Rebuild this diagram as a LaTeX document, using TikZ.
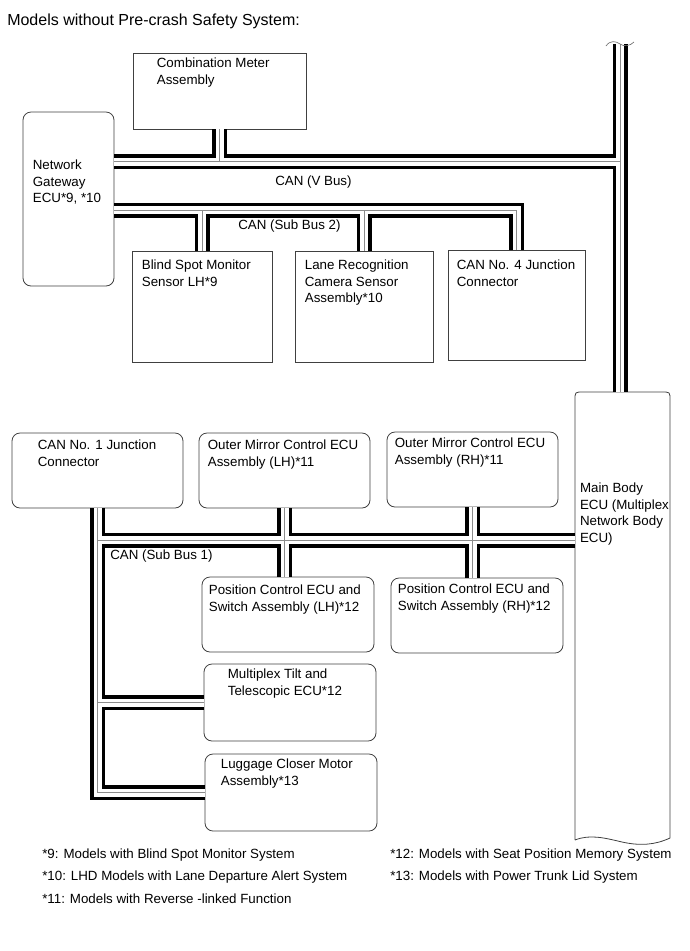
\documentclass[tikz,border=0pt]{standalone}
\usepackage{fontspec}
\setmainfont{Liberation Sans}
\usetikzlibrary{calc,positioning,fit}

\begin{document}
\begin{tikzpicture}[x=0.75pt, y=-0.75pt,
    box/.style={draw=black!75, line width=0.6pt, fill=white, inner sep=0pt},
    rbox/.style={box, rounded corners=6pt},
    txt/.style={font=\fontsize{10}{12.4}\selectfont, align=left, inner sep=0pt, anchor=north west},
    note/.style={font=\fontsize{10}{12}\selectfont, inner sep=0pt, anchor=west},
    buswire/.style={line width=11.25pt, black},
    busgap/.style={line width=6pt, white},
    buscore/.style={line width=0.6pt, black!45}]
  \useasboundingbox (0,0) rectangle (690,951);

  \node[font=\fontsize{12}{14}\selectfont, inner sep=0pt, anchor=west] (title) at (7,21) {Models without Pre-crash Safety System:};

  % upper group
  \node[box, fit={(133,53) (306,129)}] (cm) {};
  \node[rbox, fit={(23,112) (114,286)}] (gw) {};
  \node[box, fit={(132,251) (272,362)}] (bs) {};
  \node[box, fit={(295,251) (433,362)}] (ln) {};
  \node[box, fit={(448,250) (585,360)}] (c4) {};
  \node[txt] at ($(cm.north west)+(24,5)$) {Combination Meter\\Assembly};
  \node[txt] at ($(gw.north west)+(10,48)$) {Network\\Gateway\\ECU*9, *10};
  \node[txt] at ($(bs.north west)+(10,9)$) {Blind Spot Monitor\\Sensor LH*9};
  \node[txt] at ($(ln.north west)+(10,9)$) {Lane Recognition\\Camera Sensor\\Assembly*10};
  \node[txt] at ($(c4.north west)+(9,10)$) {CAN No. 4 Junction\\Connector};

  % main body ecu
  \node[inner sep=0pt, fit={(575,392) (670,840)}] (mb) {};
  \draw[draw=black!75, line width=0.6pt] (575,840) -- (575,400) .. controls (575,392) .. (583,392) -- (662,392)
    .. controls (670,392) .. (670,400) -- (670,838) .. controls (655,845) and (640,846) .. (622,842)
    .. controls (605,838) and (590,834) .. (575,840);
  \node[txt] at ($(mb.north west)+(5,91)$) {Main Body\\ECU (Multiplex\\Network Body\\ECU)};

  % lower group
  \node[rbox, fit={(12,433) (183,508)}] (c1) {};
  \node[rbox, fit={(199,433) (370,508)}] (oml) {};
  \node[rbox, fit={(387,432) (558,507)}] (omr) {};
  \node[rbox, fit={(202,577) (374,652)}] (pcl) {};
  \node[rbox, fit={(391,578) (563,653)}] (pcr) {};
  \node[rbox, fit={(204,664) (376,741)}] (mt) {};
  \node[rbox, fit={(205,754) (377,831)}] (lg) {};
  \node[txt] at ($(c1.north west)+(26,7)$) {CAN No. 1 Junction\\Connector};
  \node[txt] at ($(oml.north west)+(9,7)$) {Outer Mirror Control ECU\\Assembly (LH)*11};
  \node[txt] at ($(omr.north west)+(8,6)$) {Outer Mirror Control ECU\\Assembly (RH)*11};
  \node[txt] at ($(pcl.north west)+(7,8)$) {Position Control ECU and\\Switch Assembly (LH)*12};
  \node[txt] at ($(pcr.north west)+(7,6)$) {Position Control ECU and\\Switch Assembly (RH)*12};
  \node[txt] at ($(mt.north west)+(24,5)$) {Multiplex Tilt and\\Telescopic ECU*12};
  \node[txt] at ($(lg.north west)+(16,5)$) {Luggage Closer Motor\\Assembly*13};

  \coordinate (vtop) at (620,44);
  \coordinate (vj) at (620,161.5);
  \coordinate (sb2) at (300,210);
  \coordinate (sb1) at (300,540);

  % twisted pair buses, drawn in three layers
  \foreach \layer in {buswire,busgap,buscore} {
    \draw[\layer] (vtop) -- (vtop |- mb.north);
    \draw[\layer] (gw.east |- vj) -- (vj);
    \draw[\layer] (cm.south) -- (cm.south |- vj);
    \draw[\layer] (gw.east |- sb2) -- (c4.north |- sb2) -- (c4.north);
    \draw[\layer] (bs.north) -- (bs.north |- sb2);
    \draw[\layer] (ln.north) -- (ln.north |- sb2);
    \draw[\layer] (c1.south) -- (c1.south |- lg.west) -- (lg.west);
    \draw[\layer] (c1.south |- sb1) -- (mb.west |- sb1);
    \draw[\layer] (mt.west) -- (mt.west -| c1.south);
    \draw[\layer] (oml.south) -- (oml.south |- pcl.north);
    \draw[\layer] (omr.south) -- (omr.south |- pcr.north);
  }
  \draw[black!55, line width=0.5pt] (606,46) .. controls (610,40) and (616,41) .. (620,44) .. controls (624,47) and (630,46) .. (634,42);

  \node[txt, anchor=west] (vbus) at (275,182) {CAN (V Bus)};
  \node[txt, anchor=west] (sub2) at (238,226) {CAN (Sub Bus 2)};
  \node[txt, anchor=west] (sub1) at (110,556) {CAN (Sub Bus 1)};

  % notes
  \node[note] (n9) at (42,855) {*9: Models with Blind Spot Monitor System};
  \node[note] (n10) at (42,877) {*10: LHD Models with Lane Departure Alert System};
  \node[note] (n11) at (42,899) {*11: Models with Reverse -linked Function};
  \node[note] (n12) at (390,855) {*12: Models with Seat Position Memory System};
  \node[note] (n13) at (390,877) {*13: Models with Power Trunk Lid System};
\end{tikzpicture}
\end{document}
